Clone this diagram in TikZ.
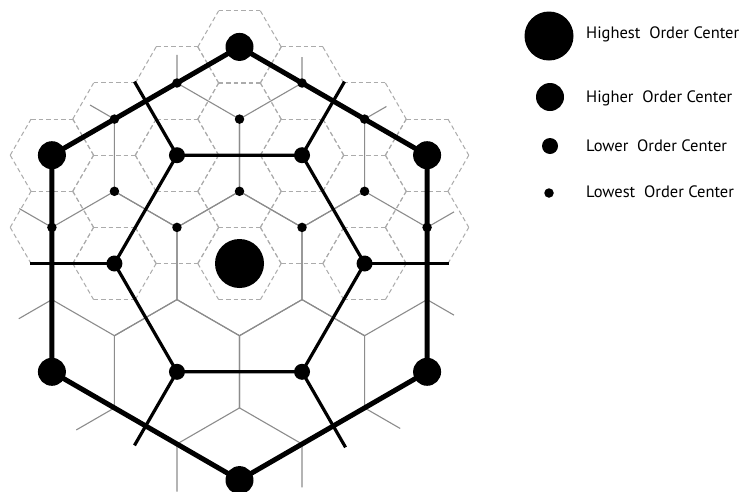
\documentclass[tikz,border=0pt]{standalone}
\usepackage{fontspec}
\setmainfont{PT Sans}
\usetikzlibrary{calc}
\pgfdeclarelayer{dashlayer}
\pgfdeclarelayer{greylayer}
\pgfdeclarelayer{blacklayer}
\pgfsetlayers{dashlayer,greylayer,blacklayer,main}
\begin{document}
\begin{tikzpicture}[x=1pt,y=-1pt,
  dashgrey/.style={draw=black!33, line width=1pt, dash pattern=on 4.5pt off 3pt},
  greyline/.style={draw=black!45, line width=1.1pt, line join=round},
  midline/.style={draw=black, line width=3.2pt, line join=round},
  heavyline/.style={draw=black, line width=5pt, line join=round},
  dotA/.style={circle, fill=black, inner sep=0pt, minimum size=49pt},
  dotB/.style={circle, fill=black, inner sep=0pt, minimum size=28pt},
  dotC/.style={circle, fill=black, inner sep=0pt, minimum size=16pt},
  dotD/.style={circle, fill=black, inner sep=0pt, minimum size=9.5pt},
  legendtext/.style={anchor=base west, inner sep=0pt, text=black, font=\fontsize{16.5}{19}\selectfont}
]
\useasboundingbox (0,0) rectangle (741,491);
\begin{pgfonlayer}{dashlayer}
\fill[white] (0,0) rectangle (741,491);
\end{pgfonlayer}

% lattice coordinates
\foreach \j in {-4,...,4}{\foreach \m in {-7,...,7}{
  \coordinate (D\j y\m) at ({239.5+62.53*\j},{263.5-36.1*\m});
}}

% centres
\node[dotA] (A0) at (D0y0) {};
\node[dotB] (B1) at (D0y6) {};
\node[dotB] (B2) at (D-3y3) {};
\node[dotB] (B3) at (D-3y-3) {};
\node[dotB] (B4) at (D0y-6) {};
\node[dotB] (B5) at (D3y-3) {};
\node[dotB] (B6) at (D3y3) {};
\node[dotC] (C1) at (D1y3) {};
\node[dotC] (C2) at (D-1y3) {};
\node[dotC] (C3) at (D-2y0) {};
\node[dotC] (C4) at (D-1y-3) {};
\node[dotC] (C5) at (D1y-3) {};
\node[dotC] (C6) at (D2y0) {};
\node[dotD] (d1) at (D0y2) {};
\node[dotD] (d2) at (D0y4) {};
\node[dotD] (d3) at (D1y1) {};
\node[dotD] (d4) at (D-1y1) {};
\node[dotD] (d5) at (D1y5) {};
\node[dotD] (d6) at (D-1y5) {};
\node[dotD] (d7) at (D2y2) {};
\node[dotD] (d8) at (D-2y2) {};
\node[dotD] (d9) at (D2y4) {};
\node[dotD] (d10) at (D-2y4) {};
\node[dotD] (d11) at (D3y1) {};
\node[dotD] (d12) at (D-3y1) {};

% lowest order market areas (dashed)
\begin{pgfonlayer}{dashlayer}
\foreach \j/\m in {0/0, 2/0, -2/0, 1/1, -1/1, 3/1, -3/1, 0/2, 2/2, -2/2, 1/3, -1/3, 3/3, -3/3, 0/4, 2/4, -2/4, 1/5, -1/5, 0/6}{
  \draw[dashgrey] ($(D\j y\m)+(60:41.7)$) -- ($(D\j y\m)+(0:41.7)$);
  \draw[dashgrey] ($(D\j y\m)+(120:41.7)$) -- ($(D\j y\m)+(60:41.7)$);
  \draw[dashgrey] ($(D\j y\m)+(180:41.7)$) -- ($(D\j y\m)+(120:41.7)$);
  \draw[dashgrey] ($(D\j y\m)+(180:41.7)$) -- ($(D\j y\m)+(240:41.7)$);
  \draw[dashgrey] ($(D\j y\m)+(240:41.7)$) -- ($(D\j y\m)+(300:41.7)$);
  \draw[dashgrey] ($(D\j y\m)+(300:41.7)$) -- ($(D\j y\m)+(0:41.7)$);
}
\end{pgfonlayer}

% lower order market areas (thin grey)
\coordinate (e1) at ($(D1y5)!0.36!(D1y7)$);
\coordinate (e2) at ($(D-1y5)!0.39!(D-1y7)$);
\coordinate (e3) at ($(D2y4)!0.35!(D3y5)$);
\coordinate (e4) at ($(D-2y4)!0.39!(D-3y5)$);
\coordinate (e5) at ($(D3y1)!0.43!(D4y2)$);
\coordinate (e6) at ($(D-3y1)!0.52!(D-4y2)$);
\coordinate (e7) at ($(D3y-1)!0.43!(D4y-2)$);
\coordinate (e8) at ($(D-3y-1)!0.53!(D-4y-2)$);
\coordinate (e9) at ($(D2y-4)!0.57!(D3y-5)$);
\coordinate (e10) at ($(D-2y-4)!0.61!(D-3y-5)$);
\coordinate (e11) at ($(D1y-5)!0.6!(D1y-7)$);
\coordinate (e12) at ($(D-1y-5)!0.66!(D-1y-7)$);
\begin{pgfonlayer}{greylayer}
\draw[greyline] (D0y2)--(D1y1)--(D1y-1)--(D0y-2)--(D-1y-1)--(D-1y1)--cycle;
\draw[greyline] (D1y5)--(D2y4)--(D2y2)--(D1y1)--(D0y2)--(D0y4)--cycle;
\draw[greyline] (D-1y5)--(D0y4)--(D0y2)--(D-1y1)--(D-2y2)--(D-2y4)--cycle;
\draw[greyline] (D2y2)--(D3y1)--(D3y-1)--(D2y-2)--(D1y-1)--(D1y1)--cycle;
\draw[greyline] (D-2y2)--(D-1y1)--(D-1y-1)--(D-2y-2)--(D-3y-1)--(D-3y1)--cycle;
\draw[greyline] (D1y-1)--(D2y-2)--(D2y-4)--(D1y-5)--(D0y-4)--(D0y-2)--cycle;
\draw[greyline] (D-1y-1)--(D0y-2)--(D0y-4)--(D-1y-5)--(D-2y-4)--(D-2y-2)--cycle;
\draw[greyline] (D1y5)--(e1);
\draw[greyline] (D-1y5)--(e2);
\draw[greyline] (D2y4)--(e3);
\draw[greyline] (D-2y4)--(e4);
\draw[greyline] (D3y1)--(e5);
\draw[greyline] (D-3y1)--(e6);
\draw[greyline] (D3y-1)--(e7);
\draw[greyline] (D-3y-1)--(e8);
\draw[greyline] (D2y-4)--(e9);
\draw[greyline] (D-2y-4)--(e10);
\draw[greyline] (D1y-5)--(e11);
\draw[greyline] (D-1y-5)--(e12);
\end{pgfonlayer}

% higher order market areas (black)
\coordinate (S1) at ($(C1)+(42.5,-73.6)$);
\coordinate (S2) at ($(C2)+(-42.5,-73.6)$);
\coordinate (S3) at ($(C3)+(-84,0)$);
\coordinate (S4) at ($(C4)+(-42.5,73.6)$);
\coordinate (S5) at ($(C5)+(43.5,75.5)$);
\coordinate (S6) at ($(C6)+(84,0)$);
\begin{pgfonlayer}{blacklayer}
\draw[midline] (C1.center)--(C2.center)--(C3.center)--(C4.center)--(C5.center)--(C6.center)--cycle;
\draw[midline] (C1.center)--(S1);
\draw[midline] (C2.center)--(S2);
\draw[midline] (C3.center)--(S3);
\draw[midline] (C4.center)--(S4);
\draw[midline] (C5.center)--(S5);
\draw[midline] (C6.center)--(S6);
\draw[heavyline] (B1.center)--(B2.center)--(B3.center)--(B4.center)--(B5.center)--(B6.center)--cycle;
\end{pgfonlayer}

% legend
\node[dotA] (LA) at (549,36) {};
\node[dotB] (LB) at (550,97) {};
\node[dotC] (LC) at (550,146) {};
\node[dotD] (LD) at (549,193) {};
\node[legendtext] (TA) at (586,38.7) {Highest\ \ Order Center};
\node[legendtext] (TB) at (586,102) {Higher\ \ Order Center};
\node[legendtext] (TC) at (586,151.7) {Lower\ \ Order Center};
\node[legendtext] (TD) at (586,197.5) {Lowest\ \ Order Center};
\end{tikzpicture}
\end{document}
